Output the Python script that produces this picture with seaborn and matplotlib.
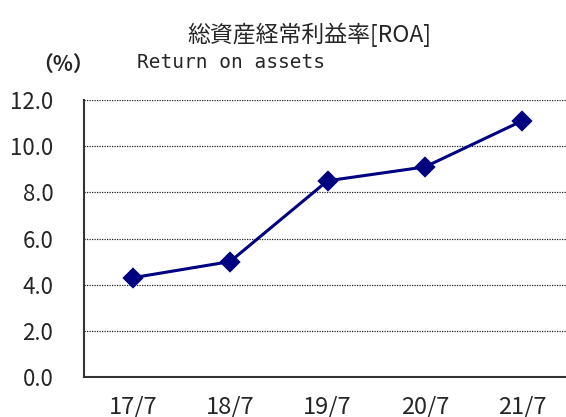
import matplotlib
matplotlib.use("Agg")
import matplotlib.pyplot as plt
import seaborn as sns
import numpy as np

# データ
periods = ["17/7", "18/7", "19/7", "20/7", "21/7"]
roa = [4.3, 5.0, 8.5, 9.1, 11.1]
yticks = [0.0, 2.0, 4.0, 6.0, 8.0, 10.0, 12.0]

sns.set_style("white")
plt.rcParams["font.family"] = ["Noto Sans CJK JP", "DejaVu Sans"]

fig = plt.figure(figsize=(5.66, 4.17), dpi=100)
ax = fig.add_axes([84 / 566, 40 / 417, 487 / 566, 277 / 417])

sns.pointplot(x=periods, y=roa, color="#000080", markers="D",
              markersize=9, linewidth=2.2, ax=ax)

ax.set_xlim(-0.5, 4.5)
ax.set_ylim(0, 12)
ax.set_yticks(yticks)
ax.set_yticklabels([f"{v:.1f}" for v in yticks], fontsize=16)
ax.set_xticks(range(len(periods)))
ax.set_xticklabels(periods, fontsize=17)
ax.set_xticks(np.arange(0.5, len(periods) - 1, 1), minor=True)
ax.tick_params(axis="x", which="major", length=0, pad=13)
ax.tick_params(axis="x", which="minor", direction="in", length=8, width=1, color="#333333")
ax.tick_params(axis="y", length=0, pad=22)
ax.set_xlabel("")
ax.set_ylabel("")

for v in yticks[1:]:
    ax.axhline(v, color="#222222", linestyle=(0, (1, 1)), linewidth=0.9, zorder=0)

for s in ["top", "right"]:
    ax.spines[s].set_visible(False)
for s in ["left", "bottom"]:
    ax.spines[s].set_color("#333333")
    ax.spines[s].set_linewidth(1.5)

fig.text(309 / 566, 1 - 35 / 417, "総資産経常利益率[ROA]", fontsize=16.5, ha="center", va="center")
fig.text(137 / 566, 1 - 62 / 417, "Return on assets", fontsize=14, ha="left", va="center",
         family="DejaVu Sans Mono")
fig.text(63 / 566, 1 - 64 / 417, "（%）", fontsize=15, ha="center", va="center", weight="bold")

fig.savefig("out.png", dpi=100)
